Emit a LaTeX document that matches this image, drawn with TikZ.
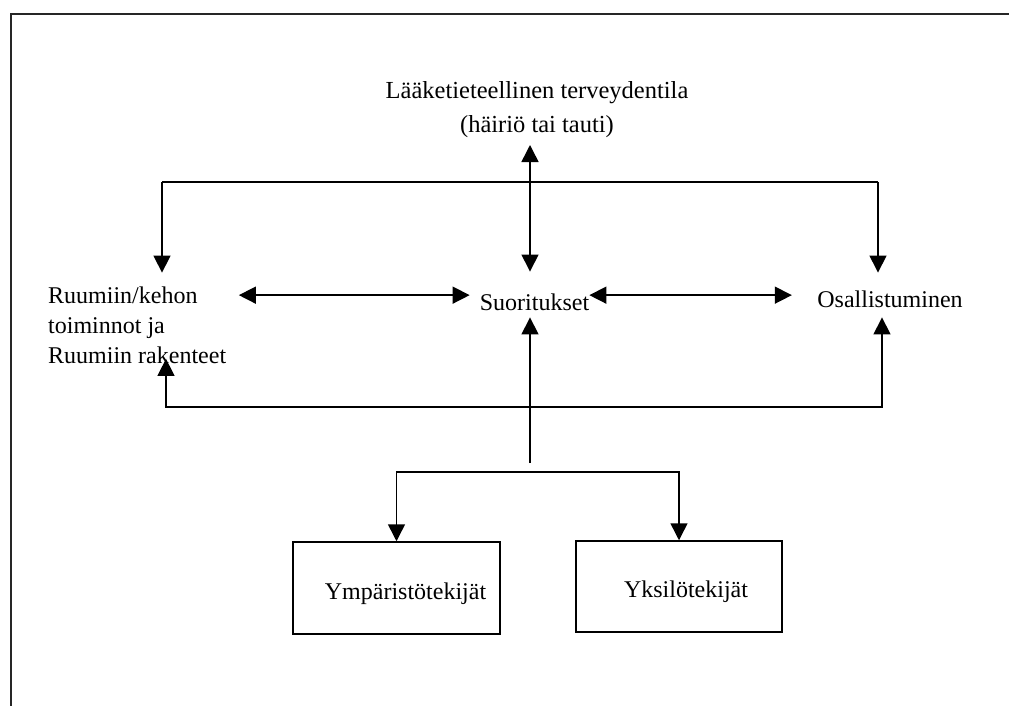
\documentclass[tikz,border=0pt]{standalone}
\usepackage{fontspec}
\setmainfont{Liberation Serif}
\usetikzlibrary{arrows.meta}

\begin{document}
\begin{tikzpicture}[
    x=1pt, y=-1pt,
    txt/.style={inner sep=0pt,font=\fontsize{24}{30}\selectfont},
    laatikko/.style={draw,line width=1.5pt,minimum width=207pt,minimum height=92pt,
      inner sep=0pt,text height=27pt,text depth=5pt,font=\fontsize{24}{30}\selectfont},
    viiva/.style={line width=1.5pt},
    nuoli/.style={viiva,-{Triangle[length=17pt,width=17pt]}},
    kaksi/.style={viiva,{Triangle[length=17pt,width=17pt]}-{Triangle[length=17pt,width=17pt]}},
  ]
  \useasboundingbox (0,0) rectangle (1009,706);
  \draw[viiva,black!85] (1009,14) -- (11,14) -- (11,706);

  \node[txt,align=center,anchor=south,font=\fontsize{24.5}{34}\selectfont] (tila) at (537,138)
    {Lääketieteellinen terveydentila\\(häiriö tai tauti)};
  \node[txt,align=left,anchor=north west] (keho) at (48,286.6)
    {Ruumiin/kehon\\toiminnot ja\\Ruumiin rakenteet};
  \node[txt,anchor=base] (suor) at (534.5,310) {Suoritukset};
  \node[txt,anchor=base] (osal) at (890,307) {Osallistuminen};
  \node[laatikko] (ymp) at (396.5,588) {\hspace{18pt}Ympäristötekijät};
  \node[laatikko,minimum width=206pt,minimum height=91pt] (yks) at (679,586.5) {\hspace{14pt}Yksilötekijät};

  \coordinate (ylaL) at (162,182);
  \coordinate (ylaR) at (878,182);
  \coordinate (alaL) at (166,407);
  \coordinate (alaR) at (882,407);
  \coordinate (haara) at (530,472);

  \draw[kaksi,shorten <=7pt,shorten >=21.6pt] ([xshift=-7pt]tila.south) -- ([xshift=-7pt]tila.south |- suor.north);
  \draw[viiva] (ylaL) -- (ylaR);
  \draw[nuoli,shorten >=14pt] (ylaL) -- (ylaL |- keho.north);
  \draw[nuoli,shorten >=17.6pt] (ylaR) -- (ylaR |- osal.north);
  \draw[kaksi,shorten <=12.5pt,shorten >=10pt] ([yshift=-2pt]keho.east |- suor.north) -- ([yshift=-2pt]suor.north west);
  \draw[kaksi,shorten >=25.3pt] ([yshift=-2pt]suor.north east) -- ([yshift=-2pt]suor.north east -| osal.west);
  \draw[kaksi,shorten <=-5pt,shorten >=10pt] (alaL |- keho.south) -- (alaL) -- (alaR) -- (alaR |- osal.south);
  \draw[nuoli,shorten <=9pt,shorten >=7pt] (haara) -- (haara |- suor.south);
  \draw[nuoli] (haara) -| (ymp.north);
  \draw[nuoli] (haara) -| (yks.north);
\end{tikzpicture}
\end{document}
